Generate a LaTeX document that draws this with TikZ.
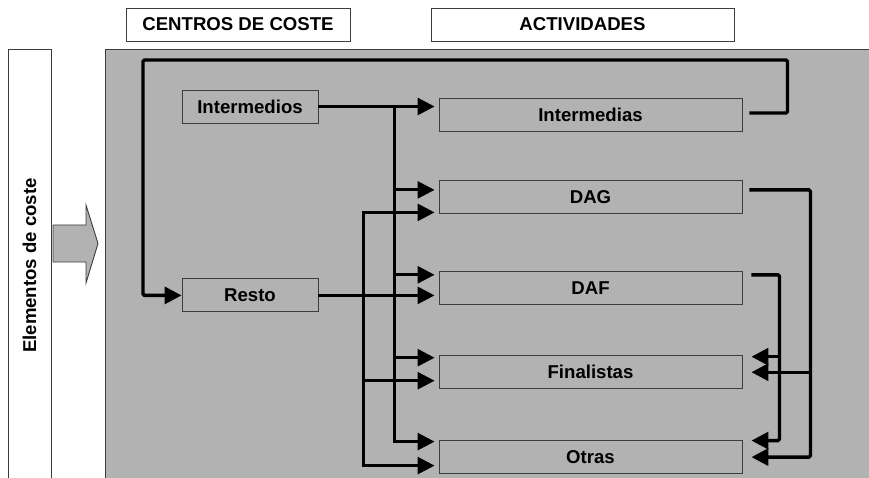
\documentclass[tikz,border=0pt]{standalone}
\usepackage{fontspec}
\setmainfont{Liberation Sans}
\usetikzlibrary{arrows.meta, positioning}
\definecolor{panel}{HTML}{B2B2B2}
\definecolor{edge}{HTML}{3C3C3C}

\begin{document}
\begin{tikzpicture}[x=1pt, y=-1pt,
    head/.style={rectangle, draw=edge, line width=0.9pt, fill=white,
      minimum height=33pt, inner sep=0pt,
      font=\fontsize{18.6}{20}\selectfont\bfseries},
    centro/.style={head, fill=panel, minimum width=136pt},
    activ/.style={head, fill=panel, minimum width=303pt},
    arr/.style={-{Triangle[length=17pt, width=17pt]}, line width=2.8pt,
      shorten >=4pt},
    arrs/.style={arr, {Triangle[length=17pt, width=17pt]}-{Triangle[length=17pt, width=17pt]},
      shorten <=4pt},
    back/.style={-{Triangle[length=17pt, width=17pt]}, line width=3.4pt,
      rounded corners=1.5pt},
  ]
  \useasboundingbox (0,0) rectangle (869,478);
  \clip (0,0) rectangle (869,478);
  % headers and panel
  \node[head, minimum width=224pt] (centros) at (238,24.5) {CENTROS DE COSTE};
  \node[head, minimum width=303pt] (activs) at (582.5,24.5) {ACTIVIDADES};
  \node[head, rotate=90, minimum width=433pt, minimum height=43pt] (elem)
    at (29.5,265.5) {Elementos de coste};
  \draw[draw=edge, fill=panel, line width=0.9pt] (105,49) rectangle (890,500);
  \draw[draw=edge, fill=panel, line width=0.9pt] (53,225) -- (86,225) -- (86,205)
    -- (98,243.5) -- (86,283) -- (86,262) -- (53,262) -- cycle;
  % cost centres
  \node[centro] (intermedios) at (250,106.5) {Intermedios};
  \node[centro, below=155pt of intermedios] (resto) {Resto};
  % activities
  \node[activ] (ints) at (590.5,114.5) {Intermedias};
  \node[activ, below=49pt of ints] (dag) {DAG};
  \node[activ, below=57pt of dag] (daf) {DAF};
  \node[activ, below=50pt of daf] (fin) {Finalistas};
  \node[activ, below=51pt of fin] (otras) {Otras};
  % entry points and buses
  \coordinate (dagU) at ([yshift=7.5pt]dag.west);
  \coordinate (dagL) at ([yshift=-15pt]dag.west);
  \coordinate (dafU) at ([yshift=13.5pt]daf.west);
  \coordinate (finU) at ([yshift=14.5pt]fin.west);
  \coordinate (finL) at ([yshift=-8.5pt]fin.west);
  \coordinate (otrU) at ([yshift=15.5pt]otras.west);
  \coordinate (otrL) at ([yshift=-8.5pt]otras.west);
  \coordinate (ibus) at ([xshift=76pt]intermedios.east);
  \coordinate (rbus) at ([xshift=45pt]resto.east);
  \coordinate (dagbus) at ([xshift=68pt]dag.east);
  \coordinate (dafbus) at ([xshift=37pt]daf.east);
  \coordinate (finR) at ([yshift=15.5pt]fin.east);
  \coordinate (otrR) at ([yshift=16.5pt]otras.east);
  \coordinate (lt) at (143,60);
  % distribution from the cost centres
  \draw[arr] (intermedios.east) -- (intermedios.east -| ints.west);
  \draw[arr] (ibus) |- (otrU);
  \draw[arr] (ibus |- dagU) -- (dagU);
  \draw[arr] (ibus |- dafU) -- (dafU);
  \draw[arr] (ibus |- finU) -- (finU);
  \draw[arr] (resto.east) -- (resto.east -| daf.west);
  \draw[arrs] (dagL) -| (rbus) |- (otrL);
  \draw[arr] (rbus |- finL) -- (finL);
  % feedback between activities
  \draw[back] ([shift={(7pt,1.5pt)}]ints.east) -- ++(38pt,0) |- (lt) |- (resto.west);
  \draw[back, shorten >=9pt] ([shift={(7pt,7.5pt)}]dag.east) -| (dagbus |- otras.east)
    -- (otras.east);
  \draw[back, shorten >=9pt] (dagbus |- fin.east) -- (fin.east);
  \draw[back, shorten >=9pt] ([shift={(9pt,13.5pt)}]daf.east) -| (dafbus |- otrR)
    -- (otrR);
  \draw[back, shorten >=9pt] (dafbus |- finR) -- (finR);
\end{tikzpicture}
\end{document}
